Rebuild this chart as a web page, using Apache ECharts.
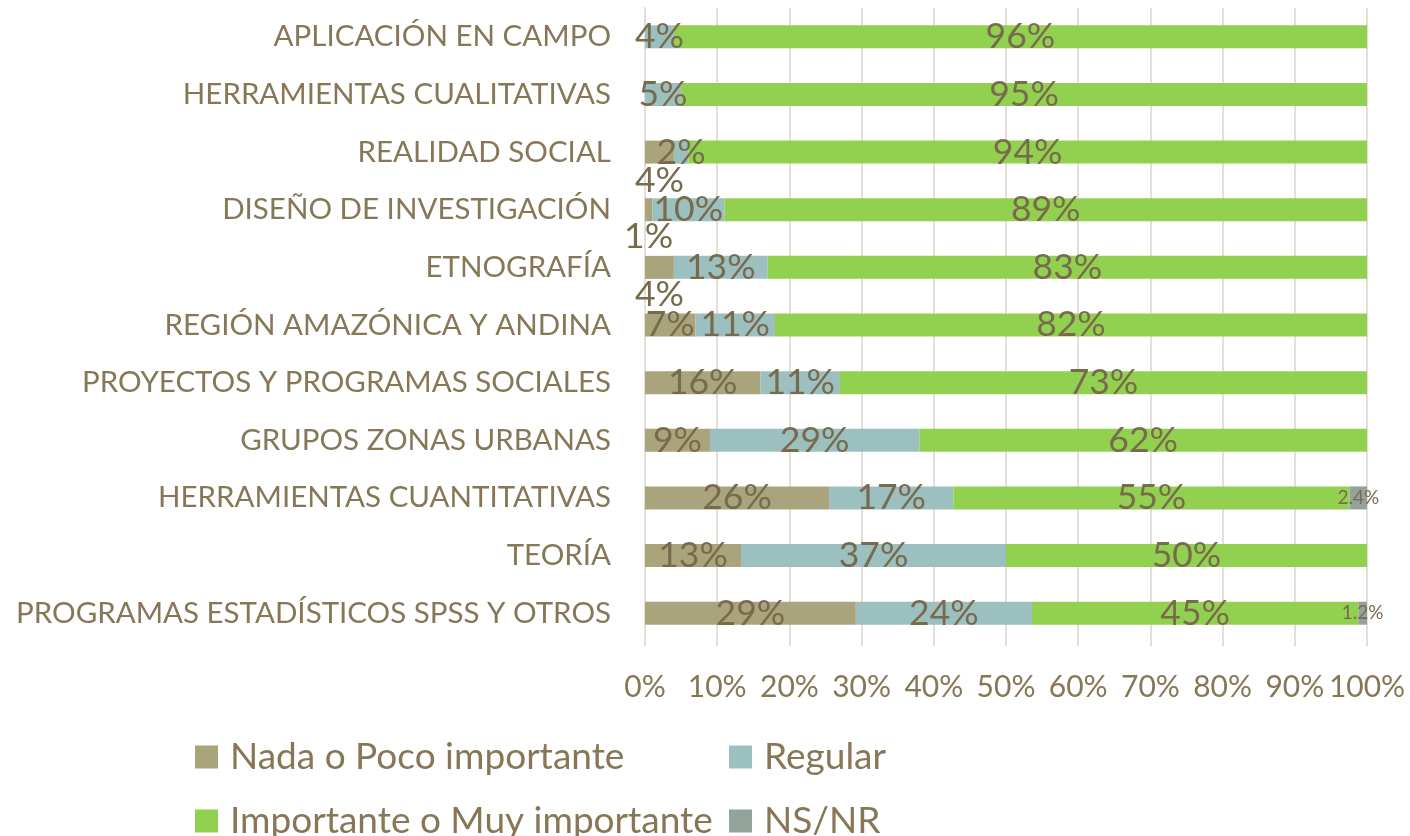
<!DOCTYPE html>
<html>
<head>
<meta charset="utf-8">
<script src="https://cdn.jsdelivr.net/npm/echarts@6/dist/echarts.min.js"></script>
<style>
  html, body { margin: 0; padding: 0; background: #fff; }
  #chart { width: 1410px; height: 836px; }
</style>
</head>
<body>
<div id="chart"></div>
<script>
// categorías (de arriba hacia abajo)
const categories = [
  "APLICACIÓN EN CAMPO",
  "HERRAMIENTAS CUALITATIVAS",
  "REALIDAD SOCIAL",
  "DISEÑO DE INVESTIGACIÓN",
  "ETNOGRAFÍA",
  "REGIÓN AMAZÓNICA Y ANDINA",
  "PROYECTOS Y PROGRAMAS SOCIALES",
  "GRUPOS ZONAS URBANAS",
  "HERRAMIENTAS CUANTITATIVAS",
  "TEORÍA",
  "PROGRAMAS ESTADÍSTICOS SPSS Y OTROS"
];
const nadaPoco = [0, 0, 4, 1, 4, 7, 16, 9, 25.5, 13.3, 29.2];
const regular = [4, 5, 2, 10, 13, 11, 11, 29, 17.2, 36.7, 24.4];
const importante = [96, 95, 94, 89, 83, 82, 73, 62, 54.9, 50, 45.2];
const nsnr = [0, 0, 0, 0, 0, 0, 0, 0, 2.4, 0, 1.2];
const xTicks = [0, 10, 20, 30, 40, 50, 60, 70, 80, 90, 100];

const FONT = "Lato";
const labelColor = "#786b4d";
const axisColor = "#877756";
const gridColor = "#e4dfd8";

// etiquetas desplazadas debajo de la barra (como en el original)
const movedLabels = { 2: 28, 3: 27, 4: 27 };

function seriesData(arr, moved) {
  return arr.map((v, i) => {
    if (moved && moved[i] !== undefined) {
      return { value: v, label: { offset: [0, moved[i]] } };
    }
    return v;
  });
}

const myChart = echarts.init(document.getElementById("chart"));

function mkSeries(name, data, color, fontSize, decimals, moved) {
  return {
    name: name,
    type: "bar",
    stack: "total",
    barWidth: 23,
    itemStyle: { color: color },
    label: {
      show: true,
      position: "inside",
      color: labelColor,
      fontFamily: FONT,
      fontSize: fontSize,
      formatter: function (p) {
        if (!p.value) return "";
        return (decimals ? p.value.toFixed(decimals) : Math.round(p.value)) + "%";
      }
    },
    emphasis: { disabled: true },
    data: seriesData(data, moved)
  };
}

// una leyenda por elemento, para fijar la posición de cada uno
function mkLegend(name, left, top) {
  return {
    left: left, top: top, padding: 0,
    itemWidth: 23, itemHeight: 23, icon: "rect",
    textStyle: { color: axisColor, fontFamily: FONT, fontSize: 37, lineHeight: 40, padding: [0, 0, 0, 7] },
    data: [name]
  };
}

const option = {
  animation: false,
  grid: { left: 645, right: 43, top: 8, bottom: 194 },
  legend: [
    mkLegend("Nada o Poco importante", 195, 737),
    mkLegend("Regular", 729, 737),
    mkLegend("Importante o Muy importante", 195, 801),
    mkLegend("NS/NR", 729, 801)
  ],
  xAxis: {
    type: "value",
    min: xTicks[0],
    max: xTicks[xTicks.length - 1],
    interval: 10,
    axisLine: { show: false },
    axisTick: { show: true, length: 4, lineStyle: { color: gridColor, width: 2 } },
    splitLine: { show: true, lineStyle: { color: gridColor, width: 2 } },
    axisLabel: {
      color: axisColor, fontFamily: FONT, fontSize: 30, margin: 30,
      formatter: "{value}%"
    }
  },
  yAxis: {
    type: "category",
    inverse: true,
    data: categories,
    axisLine: { show: true, lineStyle: { color: gridColor, width: 2 } },
    axisTick: { show: false },
    axisLabel: { color: axisColor, fontFamily: FONT, fontSize: 29.5, margin: 34 }
  },
  series: [
    mkSeries("Nada o Poco importante", nadaPoco, "#a9a47b", 35.5, 0, movedLabels),
    mkSeries("Regular", regular, "#9cbfbf", 35.5, 0),
    mkSeries("Importante o Muy importante", importante, "#92d050", 35.5, 0),
    mkSeries("NS/NR", nsnr, "#93a29a", 19, 1)
  ]
};

myChart.setOption(option);
window.addEventListener("resize", () => myChart.resize());
</script>
</body>
</html>
